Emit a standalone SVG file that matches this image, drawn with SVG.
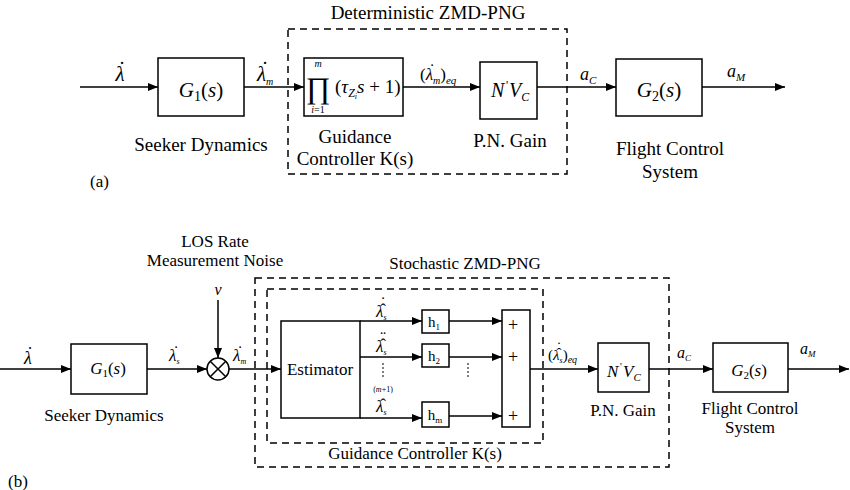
<svg xmlns="http://www.w3.org/2000/svg" width="850" height="490" viewBox="0 0 850 490" font-family="Liberation Serif, DejaVu Serif, Times New Roman, serif">
<defs>
<marker id="ah" viewBox="0 0 10 8" refX="10" refY="4" markerWidth="10" markerHeight="8" markerUnits="userSpaceOnUse" orient="auto"><path d="M0,0 L10,4 L0,8 z" fill="#000"/></marker>
<style>
.b{fill:#fff;stroke:#000;stroke-width:1.5}
.d{fill:none;stroke:#000;stroke-width:1.5;stroke-dasharray:7,5}
.l{fill:none;stroke:#000;stroke-width:1.5}
.a{fill:none;stroke:#000;stroke-width:1.5;marker-end:url(#ah)}
.dt{fill:none;stroke:#000;stroke-width:1;stroke-dasharray:2,2}
text{font-family:Liberation Serif, DejaVu Serif, Times New Roman, serif;fill:#000}
.t{font-size:19px;text-anchor:middle}
.t2{font-size:17px;text-anchor:middle}
.m{font-style:italic}
.c{text-anchor:middle}
</style>
</defs>
<!-- (a) -->
<g id="a-frame">
<rect class="d" x="288" y="29" width="279" height="145"/>
<text class="t" x="428" y="19">Deterministic ZMD-PNG</text>
<text x="90" y="187" font-size="17px">(a)</text>
</g>
<g id="a-g1">
<rect class="b" x="158" y="58" width="86" height="58"/>
<text class="c" x="201" y="97" font-size="21px"><tspan class="m">G</tspan><tspan font-size="14px" dy="4">1</tspan><tspan dy="-4">(</tspan><tspan class="m">s</tspan>)</text>
<text class="t" x="201" y="151">Seeker Dynamics</text>
</g>
<g id="a-k">
<rect class="b" x="304" y="58" width="99" height="58"/>
<text x="318" y="98" font-size="30px" class="c">∏</text>
<text x="318" y="67" font-size="10px" class="c m">m</text>
<text x="318" y="113" font-size="10px" class="c"><tspan class="m">i</tspan>=1</text>
<text x="335" y="93" font-size="19px">(<tspan class="m">τ</tspan><tspan font-size="12px" dy="4" class="m">Z</tspan><tspan font-size="8px" dy="2" class="m">i</tspan><tspan dy="-6" class="m">s</tspan> + 1)</text>
<text class="t" x="355" y="143">Guidance</text>
<text class="t" x="355" y="165">Controller K(s)</text>
</g>
<g id="a-pn">
<rect class="b" x="480" y="62" width="57" height="57"/>
<text x="491" y="97" font-size="20px" class="m">N</text>
<text x="506" y="89" font-size="12px">'</text>
<text x="509" y="97" font-size="20px" class="m">V<tspan font-size="12px" dy="4">C</tspan></text>
<text class="t" x="510" y="147">P.N. Gain</text>
</g>
<g id="a-g2">
<rect class="b" x="616" y="59" width="86" height="57"/>
<text class="c" x="659" y="97" font-size="21px"><tspan class="m">G</tspan><tspan font-size="14px" dy="4">2</tspan><tspan dy="-4">(</tspan><tspan class="m">s</tspan>)</text>
<text class="t" x="670" y="155">Flight Control</text>
<text class="t" x="670" y="178">System</text>
</g>
<g id="a-conn">
<line class="a" x1="80" y1="87" x2="158" y2="87"/>
<line class="a" x1="244" y1="87" x2="304" y2="87"/>
<line class="a" x1="403" y1="87" x2="480" y2="87"/>
<line class="a" x1="537" y1="87" x2="616" y2="87"/>
<line class="a" x1="702" y1="87" x2="785" y2="87"/>
<text x="120" y="81" font-size="21px" class="m c">λ</text>
<text x="122" y="76" font-size="21px" class="c">˙</text>
<text x="257" y="81" font-size="21px" class="m">λ<tspan font-size="10px" dy="4">m</tspan></text>
<text x="265" y="76" font-size="21px" class="c">˙</text>
<text x="420" y="80" font-size="17px">(<tspan class="m">λ</tspan><tspan font-size="10px" dy="4" class="m">m</tspan><tspan dy="-4">)</tspan><tspan font-size="11px" dy="4" class="m">eq</tspan></text>
<text x="432" y="75" font-size="17px" class="c">˙</text>
<text x="580" y="80" font-size="18px" class="m">a<tspan font-size="11px" dy="4">C</tspan></text>
<text x="727" y="77" font-size="18px" class="m">a<tspan font-size="11px" dy="4">M</tspan></text>
</g>
<!-- (b) -->
<g id="b-frames">
<rect class="d" x="255" y="278" width="414" height="189"/>
<rect class="d" x="267" y="289" width="276" height="154"/>
<text class="t2" x="465" y="269">Stochastic ZMD-PNG</text>
<text class="t2" x="415" y="459">Guidance Controller K(s)</text>
<text x="8" y="487" font-size="17px">(b)</text>
</g>
<g id="b-g1">
<rect class="b" x="71" y="344" width="76" height="50"/>
<text class="c" x="108" y="374" font-size="17px"><tspan class="m">G</tspan><tspan font-size="11px" dy="3">1</tspan><tspan dy="-3">(</tspan><tspan class="m">s</tspan>)</text>
<text class="t2" x="104" y="421">Seeker Dynamics</text>
</g>
<g id="b-sum">
<circle class="b" cx="218" cy="369" r="11"/>
<line class="l" x1="210.2" y1="361.2" x2="225.8" y2="376.8"/>
<line class="l" x1="225.8" y1="361.2" x2="210.2" y2="376.8"/>
<text class="t2" x="215" y="247">LOS Rate</text>
<text class="t2" x="215" y="266">Measurement Noise</text>
<text x="218" y="295" font-size="16px" class="c m">v</text>
</g>
<g id="b-est">
<rect class="b" x="281" y="321" width="79" height="97"/>
<text class="t2" x="320" y="375">Estimator</text>
</g>
<g id="b-h1"><rect class="b" x="422" y="310" width="27" height="23"/><text x="434" y="327" font-size="15px" class="c">h<tspan font-size="9px" dy="3">1</tspan></text></g>
<g id="b-h2"><rect class="b" x="422" y="344" width="27" height="23"/><text x="434" y="361" font-size="15px" class="c">h<tspan font-size="9px" dy="3">2</tspan></text></g>
<g id="b-hm"><rect class="b" x="422" y="402" width="27" height="25"/><text x="435" y="420" font-size="15px" class="c">h<tspan font-size="9px" dy="3">m</tspan></text></g>
<g id="b-add">
<rect class="b" x="502" y="310" width="28" height="117"/>
<text x="513" y="331" font-size="18px" class="c">+</text>
<text x="513" y="363" font-size="18px" class="c">+</text>
<text x="513" y="422" font-size="18px" class="c">+</text>
</g>
<g id="b-pn">
<rect class="b" x="598" y="343" width="51" height="49"/>
<text x="607" y="377" font-size="17px" class="m">N</text>
<text x="620" y="370" font-size="10px">'</text>
<text x="623" y="377" font-size="17px" class="m">V<tspan font-size="11px" dy="4">C</tspan></text>
<text class="t2" x="623" y="416">P.N. Gain</text>
</g>
<g id="b-g2">
<rect class="b" x="713" y="343" width="75" height="49"/>
<text class="c" x="749" y="376" font-size="17px"><tspan class="m">G</tspan><tspan font-size="11px" dy="3">2</tspan><tspan dy="-3">(</tspan><tspan class="m">s</tspan>)</text>
<text class="t2" x="750" y="414">Flight Control</text>
<text class="t2" x="750" y="433">System</text>
</g>
<g id="b-conn">
<line class="a" x1="0" y1="369" x2="71" y2="369"/>
<line class="a" x1="147" y1="369" x2="207" y2="369"/>
<line class="a" x1="218" y1="300" x2="218" y2="358"/>
<line class="a" x1="229" y1="369" x2="281" y2="369"/>
<line class="a" x1="360" y1="321" x2="422" y2="321"/>
<line class="a" x1="360" y1="357" x2="422" y2="357"/>
<line class="a" x1="360" y1="418" x2="422" y2="418"/>
<line class="a" x1="449" y1="321" x2="502" y2="321"/>
<line class="a" x1="449" y1="357" x2="502" y2="357"/>
<line class="a" x1="449" y1="416" x2="502" y2="416"/>
<line class="a" x1="530" y1="369" x2="598" y2="369"/>
<line class="a" x1="649" y1="369" x2="713" y2="369"/>
<line class="a" x1="788" y1="369" x2="849" y2="369"/>
<line class="dt" x1="383" y1="363" x2="383" y2="378"/>
<line class="dt" x1="468" y1="363" x2="468" y2="378"/>
<text x="28" y="364" font-size="18px" class="m c">λ</text>
<text x="30" y="360" font-size="18px" class="c">˙</text>
<text x="169" y="361" font-size="17px" class="m">λ<tspan font-size="8px" dy="3">s</tspan></text>
<text x="176" y="357" font-size="17px" class="c">˙</text>
<text x="233" y="361" font-size="17px" class="m">λ<tspan font-size="8px" dy="3">m</tspan></text>
<text x="240" y="357" font-size="17px" class="c">˙</text>
<text x="376" y="317" font-size="17px" class="m">λ<tspan font-size="8px" dy="3">s</tspan></text>
<text x="383" y="315" font-size="17px" class="c">ˆ</text>
<text x="383" y="308" font-size="17px" class="c">˙</text>
<text x="376" y="352" font-size="17px" class="m">λ<tspan font-size="8px" dy="3">s</tspan></text>
<text x="383" y="350" font-size="17px" class="c">ˆ</text>
<text x="383" y="343" font-size="17px" class="c">¨</text>
<text x="383" y="392" font-size="8px" class="c">(<tspan class="m">m</tspan>+1)</text>
<text x="376" y="412" font-size="17px" class="m">λ<tspan font-size="8px" dy="3">s</tspan></text>
<text x="383" y="410" font-size="17px" class="c">ˆ</text>
<text x="548" y="360" font-size="15px">(<tspan class="m">λ</tspan><tspan font-size="8px" dy="3" class="m">s</tspan><tspan dy="-3">)</tspan><tspan font-size="10px" dy="3" class="m">eq</tspan></text>
<text x="559" y="358" font-size="15px" class="c">ˆ</text>
<text x="559" y="352" font-size="15px" class="c">˙</text>
<text x="677" y="358" font-size="16px" class="m">a<tspan font-size="9px" dy="3">C</tspan></text>
<text x="800" y="354" font-size="16px" class="m">a<tspan font-size="9px" dy="3">M</tspan></text>
</g>
</svg>
